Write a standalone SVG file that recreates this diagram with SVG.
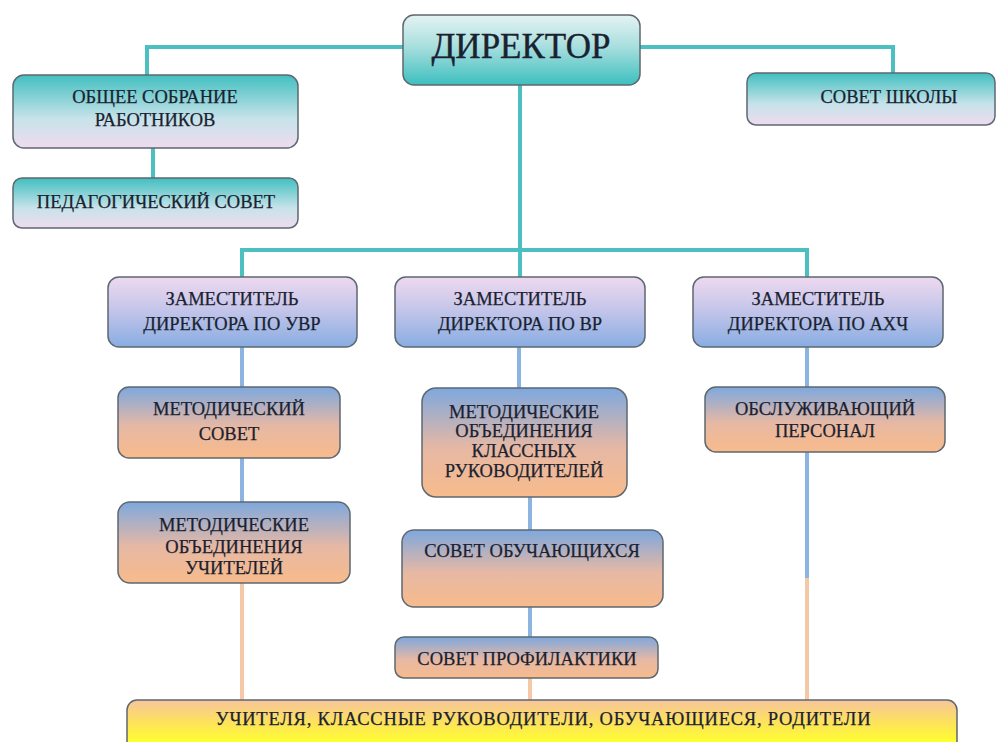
<svg xmlns="http://www.w3.org/2000/svg" width="1002" height="742" viewBox="0 0 1002 742">
<defs>
<linearGradient id="gDir" x1="0" y1="0" x2="0" y2="1"><stop offset="0" stop-color="#e4f3f4"/><stop offset="0.45" stop-color="#a9dede"/><stop offset="1" stop-color="#3dbfbf"/></linearGradient>
<linearGradient id="gTeal" x1="0" y1="0" x2="0" y2="1"><stop offset="0" stop-color="#42bfc0"/><stop offset="0.6" stop-color="#c7e3ea"/><stop offset="1" stop-color="#efdbef"/></linearGradient>
<linearGradient id="gZam" x1="0" y1="0" x2="0" y2="1"><stop offset="0" stop-color="#eed9ef"/><stop offset="0.45" stop-color="#c6c6ea"/><stop offset="1" stop-color="#88ade2"/></linearGradient>
<linearGradient id="gMet" x1="0" y1="0" x2="0" y2="1"><stop offset="0" stop-color="#7ea8de"/><stop offset="0.55" stop-color="#e6b8a4"/><stop offset="1" stop-color="#f8bb8b"/></linearGradient>
<linearGradient id="gBot" gradientUnits="userSpaceOnUse" x1="0" y1="700" x2="0" y2="742"><stop offset="0" stop-color="#f7c59c"/><stop offset="0.55" stop-color="#fde35a"/><stop offset="1" stop-color="#ffff30"/></linearGradient>
</defs>
<style>
.box{stroke:#5e6870;stroke-width:1.5}
.t{font-family:"Liberation Serif","Times New Roman",serif;font-size:18.5px;fill:#1a2230;stroke:#1a2230;stroke-width:0.25;text-anchor:middle}
.big{font-size:35px;stroke-width:0.4}
.lt{fill:none;stroke:#4cbfc0;stroke-width:4}
.lb{fill:none;stroke:#8db4e0;stroke-width:4}
.lp{fill:none;stroke:#f5c9a8;stroke-width:4}
</style>
<rect width="1002" height="742" fill="#ffffff"/>
<g id="connectors">
<path class="lt" d="M147,75 V47 H403"/>
<path class="lt" d="M640,47 H893 V73"/>
<path class="lt" d="M153,148 V178"/>
<path class="lt" d="M520,85 V277"/>
<path class="lt" d="M242,277 V250 H807 V277"/>
<path class="lb" d="M242,347 V387"/>
<path class="lb" d="M242,458 V502"/>
<path class="lb" d="M519,347 V388"/>
<path class="lb" d="M530,497 V530"/>
<path class="lb" d="M530,607 V637"/>
<path class="lb" d="M807,347 V387"/>
<path class="lb" d="M807,452 V578"/>
<path class="lp" d="M242,583 V700"/>
<path class="lp" d="M530,678 V700"/>
<path class="lp" d="M807,578 V700"/>
</g>
<g id="director">
<rect class="box" x="403" y="15" width="237" height="70" rx="11" fill="url(#gDir)"/>
<text class="t big" x="521" y="58">ДИРЕКТОР</text>
</g>
<g id="general-meeting">
<rect class="box" x="13" y="75" width="285" height="73" rx="11" fill="url(#gTeal)"/>
<text class="t" x="155" y="103">ОБЩЕЕ СОБРАНИЕ</text>
<text class="t" x="155" y="126">РАБОТНИКОВ</text>
</g>
<g id="ped-council">
<rect class="box" x="13" y="178" width="285" height="50" rx="9" fill="url(#gTeal)"/>
<text class="t" x="156" y="208">ПЕДАГОГИЧЕСКИЙ СОВЕТ</text>
</g>
<g id="school-council">
<rect class="box" x="747" y="73" width="248" height="52" rx="9" fill="url(#gTeal)"/>
<text class="t" x="889" y="103">СОВЕТ ШКОЛЫ</text>
</g>
<g id="deputy-uvr">
<rect class="box" x="108" y="277" width="249" height="70" rx="11" fill="url(#gZam)"/>
<text class="t" x="232" y="305">ЗАМЕСТИТЕЛЬ</text>
<text class="t" x="232" y="330">ДИРЕКТОРА ПО УВР</text>
</g>
<g id="deputy-vr">
<rect class="box" x="395" y="277" width="250" height="70" rx="11" fill="url(#gZam)"/>
<text class="t" x="520" y="305">ЗАМЕСТИТЕЛЬ</text>
<text class="t" x="520" y="330">ДИРЕКТОРА ПО ВР</text>
</g>
<g id="deputy-ahch">
<rect class="box" x="693" y="277" width="250" height="70" rx="11" fill="url(#gZam)"/>
<text class="t" x="818" y="305">ЗАМЕСТИТЕЛЬ</text>
<text class="t" x="818" y="330">ДИРЕКТОРА ПО АХЧ</text>
</g>
<g id="method-council">
<rect class="box" x="118" y="387" width="222" height="71" rx="11" fill="url(#gMet)"/>
<text class="t" x="229" y="415">МЕТОДИЧЕСКИЙ</text>
<text class="t" x="229" y="440">СОВЕТ</text>
</g>
<g id="method-class">
<rect class="box" x="422" y="388" width="205" height="109" rx="14" fill="url(#gMet)"/>
<text class="t" x="524" y="418">МЕТОДИЧЕСКИЕ</text>
<text class="t" x="524" y="437">ОБЪЕДИНЕНИЯ</text>
<text class="t" x="524" y="457">КЛАССНЫХ</text>
<text class="t" x="524" y="477">РУКОВОДИТЕЛЕЙ</text>
</g>
<g id="service-staff">
<rect class="box" x="705" y="387" width="240" height="65" rx="11" fill="url(#gMet)"/>
<text class="t" x="825" y="415">ОБСЛУЖИВАЮЩИЙ</text>
<text class="t" x="825" y="437">ПЕРСОНАЛ</text>
</g>
<g id="method-teachers">
<rect class="box" x="118" y="502" width="232" height="81" rx="12" fill="url(#gMet)"/>
<text class="t" x="234" y="531">МЕТОДИЧЕСКИЕ</text>
<text class="t" x="234" y="553">ОБЪЕДИНЕНИЯ</text>
<text class="t" x="234" y="574">УЧИТЕЛЕЙ</text>
</g>
<g id="student-council">
<rect class="box" x="402" y="530" width="261" height="77" rx="12" fill="url(#gMet)"/>
<text class="t" x="532" y="557">СОВЕТ ОБУЧАЮЩИХСЯ</text>
</g>
<g id="prevention-council">
<rect class="box" x="395" y="637" width="263" height="41" rx="9" fill="url(#gMet)"/>
<text class="t" x="527" y="665">СОВЕТ ПРОФИЛАКТИКИ</text>
</g>
<g id="participants">
<rect class="box" x="127" y="700" width="830" height="62" rx="10" fill="url(#gBot)"/>
<text class="t" x="543" y="725" textLength="655" lengthAdjust="spacing">УЧИТЕЛЯ, КЛАССНЫЕ РУКОВОДИТЕЛИ, ОБУЧАЮЩИЕСЯ, РОДИТЕЛИ</text>
</g>
</svg>
